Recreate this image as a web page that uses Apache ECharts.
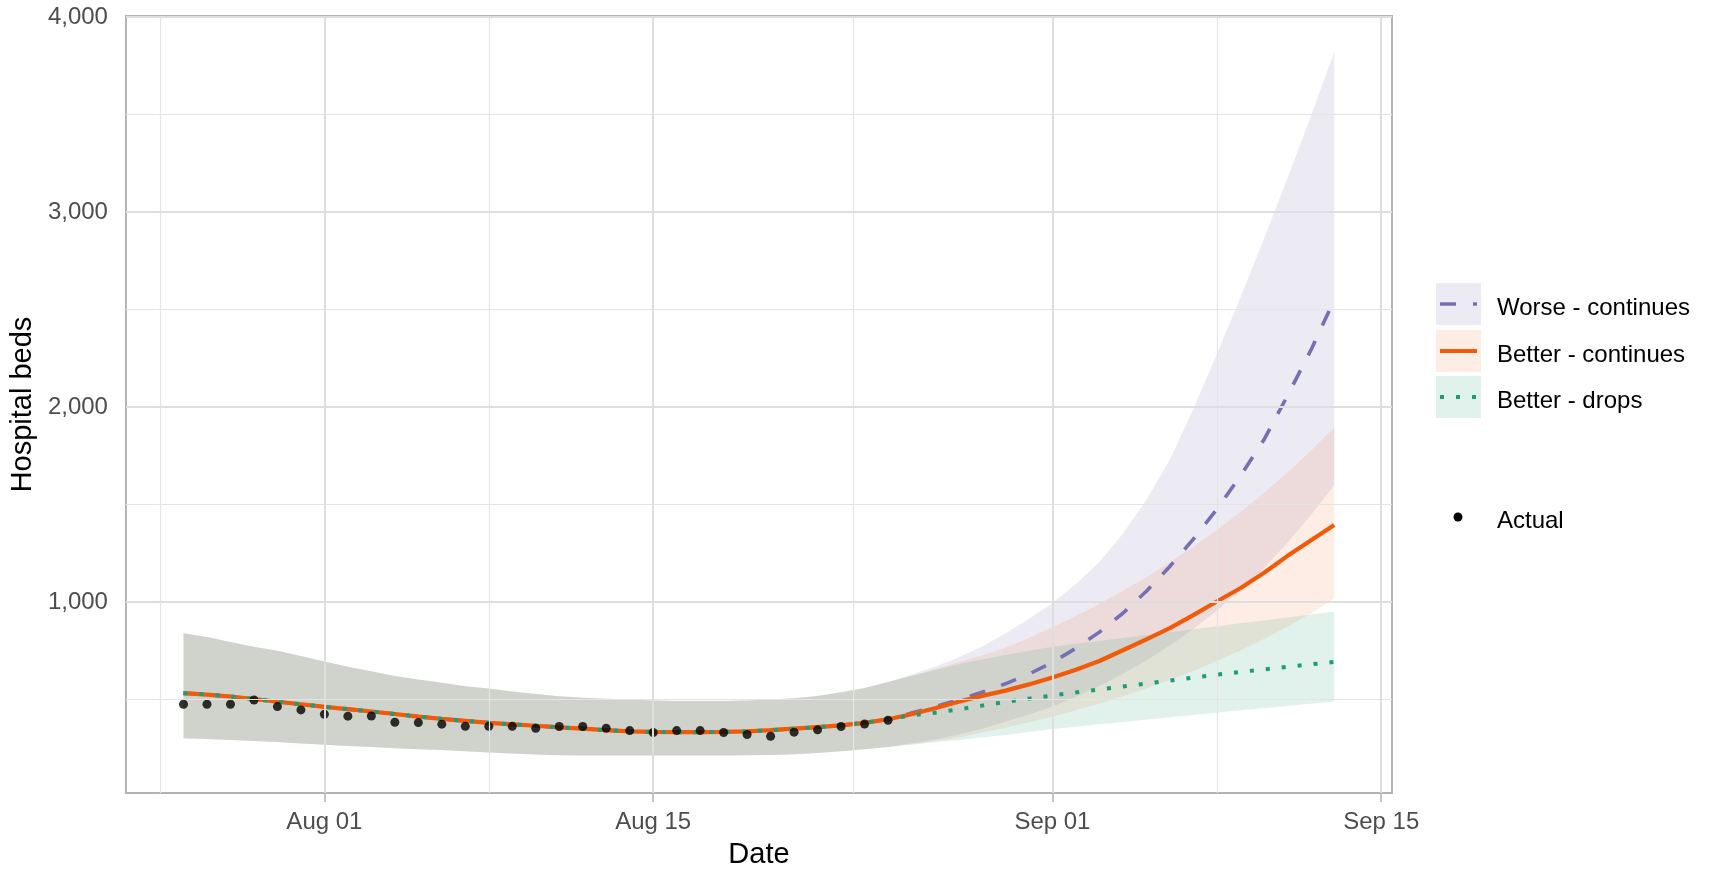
<!DOCTYPE html>
<html>
<head>
<meta charset="utf-8">
<script src="https://cdn.jsdelivr.net/npm/echarts@6/dist/echarts.min.js"></script>
<style>
html,body{margin:0;padding:0;background:#fff;}
#c{width:1716px;height:892px;}
</style>
</head>
<body>
<div id="c"></div>
<script>
// ---------- data ----------
const dates = [
 '2020-07-26','2020-07-27','2020-07-28','2020-07-29','2020-07-30','2020-07-31',
 '2020-08-01','2020-08-02','2020-08-03','2020-08-04','2020-08-05','2020-08-06','2020-08-07',
 '2020-08-08','2020-08-09','2020-08-10','2020-08-11','2020-08-12','2020-08-13','2020-08-14',
 '2020-08-15','2020-08-16','2020-08-17','2020-08-18','2020-08-19','2020-08-20','2020-08-21',
 '2020-08-22','2020-08-23','2020-08-24','2020-08-25',
 '2020-08-26','2020-08-27','2020-08-28','2020-08-29','2020-08-30','2020-08-31',
 '2020-09-01','2020-09-02','2020-09-03','2020-09-04','2020-09-05','2020-09-06','2020-09-07',
 '2020-09-08','2020-09-09','2020-09-10','2020-09-11','2020-09-12','2020-09-13'
];
// observed beds, Jul 26 - Aug 25
const actual = [475,475,475,497,463,446,424,414,415,383,381,373,362,362,362,352,361,361,352,340,
                330,340,340,330,320,311,332,344,361,374,393];
// fitted values shared by all scenarios, Jul 26 - Aug 25
const commonMid   = [532,525,515,502,488,475,462,450,438,425,412,400,390,380,372,365,357,350,342,336,
                     333,332,332,333,336,342,350,358,367,380,398];
const commonUpper = [839,820,795,770,750,722,695,668,644,620,602,586,568,556,541,528,516,508,503,499,
                     495,492,492,492,494,499,506,518,537,558,589];
const commonLower = [301,297,292,287,281,274,267,261,256,250,245,240,234,228,222,217,213,212,212,212,
                     212,212,212,212,213,215,219,225,234,245,256];
// projections, Aug 26 - Sep 13
const worseMid    = [430,462,498,537,580,630,690,762,845,942,1055,1182,1322,1475,1645,1830,2055,2290,2549];
const worseUpper  = [628,668,715,771,838,912,995,1092,1205,1349,1523,1730,1990,2270,2560,2860,3170,3490,3820];
const worseLower  = [275,295,320,350,385,422,463,513,569,631,700,776,861,955,1059,1174,1302,1444,1600];
const betterMid   = [424,455,488,518,545,577,612,652,697,752,808,866,932,1002,1070,1148,1235,1315,1395];
const betterUpper = [620,655,690,725,765,815,870,928,990,1057,1127,1203,1283,1369,1461,1559,1663,1775,1894];
const betterLower = [270,285,305,330,355,383,412,444,479,516,556,600,646,697,751,810,873,941,1019];
const dropsMid    = [418,432,449,468,487,504,520,536,551,566,581,597,612,627,641,654,667,680,692];
const dropsUpper  = [620,650,680,705,728,750,770,785,800,815,830,845,860,875,890,905,920,935,950];
const dropsLower  = [268,280,292,305,318,333,348,360,372,384,396,408,420,432,444,455,466,478,489];

const xTickDates  = ['2020-08-01','2020-08-15','2020-09-01','2020-09-15'];
const xTickLabels = ['Aug 01','Aug 15','Sep 01','Sep 15'];
const xMinorDates = ['2020-07-25','2020-08-08','2020-08-23T12:00:00','2020-09-08'];
const yTicks = [1000,2000,3000,4000];
const yMinor = [500,1500,2500,3500];

const seriesNames = ['Worse - continues','Better - continues','Better - drops'];

// ---------- helpers ----------
const t0 = Date.parse('2020-08-01T00:00:00Z');
const dayOf = d => (Date.parse(d.length > 10 ? d + 'Z' : d + 'T00:00:00Z') - t0) / 864e5;
const xs = dates.map(dayOf);
const xTicks = xTickDates.map(dayOf);
const xMinor = xMinorDates.map(dayOf);
const pairs = arr => arr.map((v, i) => [xs[i], v]);

const scen = [
  {name: seriesNames[0], mid: commonMid.concat(worseMid),  up: commonUpper.concat(worseUpper),  lo: commonLower.concat(worseLower),
   color: '#7570b3', fill: 'rgba(117,112,179,0.14)', dash: [16,17], width: 3.6},
  {name: seriesNames[1], mid: commonMid.concat(betterMid), up: commonUpper.concat(betterUpper), lo: commonLower.concat(betterLower),
   color: '#f15a08', fill: 'rgba(241,90,8,0.11)', dash: 'solid', width: 4.2},
  {name: seriesNames[2], mid: commonMid.concat(dropsMid),  up: commonUpper.concat(dropsUpper),  lo: commonLower.concat(dropsLower),
   color: '#1b9e77', fill: 'rgba(27,158,119,0.13)', dash: [4,12], width: 4}
];

const FONT = '"Liberation Sans", Arial, sans-serif';
const series = [];

// grid lines (drawn through the axes' scales)
const gl = (w, c) => ({lineStyle: {width: w, color: c, type: 'solid'}});
series.push({
  type: 'line', data: [], z: 1, silent: true,
  markLine: {
    silent: true, symbol: 'none', label: {show: false}, animation: false,
    data: [].concat(
      yMinor.map(v => Object.assign({yAxis: v}, gl(1.2, '#e4e4e4'))),
      xMinor.map(v => Object.assign({xAxis: v}, gl(1.2, '#e4e4e4'))),
      yTicks.map(v => Object.assign({yAxis: v}, gl(2, '#dedede'))),
      xTicks.map(v => Object.assign({xAxis: v}, gl(2, '#dedede')))
    )
  }
});

// ribbons: one polygon each, upper edge forward then lower edge back
scen.forEach((s) => {
  const band = xs.map((x, i) => [x, s.lo[i], s.up[i]]);
  series.push({
    type: 'custom', z: 2, silent: true,
    data: [0],
    renderItem: (params, api) => {
      const pts = [];
      band.forEach(b => pts.push(api.coord([b[0], b[2]])));
      for (let i = band.length - 1; i >= 0; i--) pts.push(api.coord([band[i][0], band[i][1]]));
      return {type: 'polygon', shape: {points: pts}, style: {fill: s.fill}};
    }
  });
});

// central lines
scen.forEach((s) => {
  series.push({
    name: s.name, type: 'line', data: pairs(s.mid), symbol: 'none', z: 3,
    lineStyle: {color: s.color, width: s.width, type: s.dash, cap: 'butt'}
  });
});

// actual points
series.push({
  name: 'Actual', type: 'scatter', data: pairs(actual), symbol: 'circle', symbolSize: 9, z: 4,
  itemStyle: {color: '#000'}
});

// ---------- legend (drawn as graphics) ----------
const lgX = 1436, lgW = 45, lgH = 42, rows = [283, 330, 376];
const graphic = [];
scen.forEach((s, k) => {
  const y0 = rows[k];
  graphic.push({type: 'rect', shape: {x: lgX, y: y0, width: lgW, height: lgH},
    style: {fill: s.fill}, silent: true});
  graphic.push({type: 'line', shape: {x1: lgX + 4, y1: y0 + 21, x2: lgX + 41, y2: y0 + 21},
    style: {stroke: s.color, lineWidth: s.width, lineDash: s.dash === 'solid' ? null : s.dash, lineCap: 'butt'}, silent: true});
  graphic.push({type: 'text', x: 1497, y: y0 + 25,
    style: {text: s.name, fontSize: 24, fontFamily: FONT, fill: '#000', verticalAlign: 'middle', align: 'left'}, silent: true});
});
graphic.push({type: 'circle', shape: {cx: 1458, cy: 517, r: 4.5}, style: {fill: '#000'}, silent: true});
graphic.push({type: 'text', x: 1497, y: 521,
  style: {text: 'Actual', fontSize: 24, fontFamily: FONT, fill: '#000', verticalAlign: 'middle', align: 'left'}, silent: true});

const chart = echarts.init(document.getElementById('c'), null, {renderer: 'canvas'});
chart.setOption({
  animation: false,
  backgroundColor: '#fff',
  textStyle: {fontFamily: FONT},
  grid: {left: 118, right: 324, top: 16, bottom: 99, show: true, borderColor: '#b3b3b3', borderWidth: 2, backgroundColor: 'transparent'},
  xAxis: {
    type: 'value', min: -8.45, max: 45.46,
    name: 'Date', nameLocation: 'middle', nameGap: 47,
    nameTextStyle: {fontSize: 29, color: '#000', fontFamily: FONT},
    axisLine: {show: false},
    splitLine: {show: false},
    axisTick: {show: true, customValues: xTicks, length: 9, lineStyle: {color: '#b3b3b3', width: 1.5}},
    axisLabel: {customValues: xTicks, margin: 17, fontSize: 24, color: '#4d4d4d', fontFamily: FONT,
      formatter: v => { const i = xTicks.findIndex(t => Math.abs(t - v) < 1e-6); return i >= 0 ? xTickLabels[i] : ''; }}
  },
  yAxis: {
    type: 'value', min: 20, max: 4005,
    name: 'Hospital beds', nameLocation: 'middle', nameGap: 84, nameRotate: 90,
    nameTextStyle: {fontSize: 29, color: '#000', fontFamily: FONT},
    axisLine: {show: false},
    splitLine: {show: false},
    axisTick: {show: true, customValues: yTicks, length: 9, lineStyle: {color: '#b3b3b3', width: 1.5}},
    axisLabel: {customValues: yTicks, margin: 18, fontSize: 24, color: '#4d4d4d', fontFamily: FONT,
      padding: [8, 0, 0, 0],
      formatter: v => v.toLocaleString('en-US')}
  },
  series: series,
  graphic: graphic
});
</script>
</body>
</html>
